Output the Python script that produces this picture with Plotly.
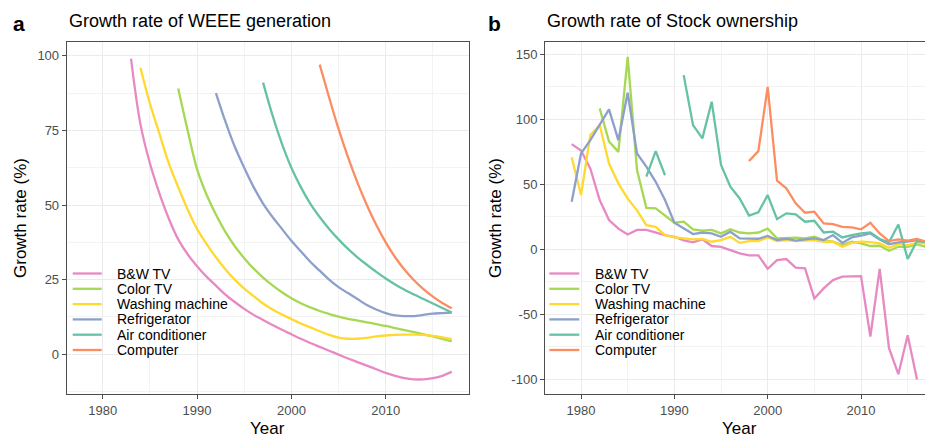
import plotly.graph_objects as go

W, H = 933, 441
OFF = 8  # the page body adds an 8px margin around the figure

names = ["B&W TV", "Color TV", "Washing machine", "Refrigerator", "Air conditioner", "Computer"]
colors = ["#E78AC3", "#A6D854", "#FFD92F", "#8DA0CB", "#66C2A5", "#FC8D62"]

year_ticks = [1980, 1990, 2000, 2010]
ticks_a = [0, 25, 50, 75, 100]
ticks_b = [-100, -50, 0, 50, 100, 150]
labels_b = ["-100", "-50", "0", "50", "100", "150"]

# panel a: smoothed WEEE generation growth rate, 1983-2017
years_a = list(range(1983, 2018))
weee_bw = [99, 77, 64, 54, 45.5, 38.5, 33.5, 29.5, 26, 23, 20, 17.5, 15.2, 13.2, 11.5, 9.8, 8.2,
           6.7, 5.2, 3.8, 2.5, 1.2, -0.1, -1.4, -2.6, -3.8, -5, -6.2, -7.2, -8, -8.4, -8.4, -8, -7.2, -5.8]
weee_color = [None] * 5 + [89, 75, 62, 53.5, 46.8, 41, 36.2, 32.2, 28.7, 25.7, 23.1, 20.8, 18.8, 17.1,
                           15.7, 14.5, 13.5, 12.6, 11.9, 11.3, 10.7, 10.1, 9.5, 8.8, 8.1, 7.4, 6.7, 6,
                           5.2, 4.3]
weee_wash = [None] + [96, 84, 74, 64, 56, 48.5, 42, 37, 32.5, 28.5, 25, 22, 19.5, 17, 15, 13.3, 11.8,
                      10.3, 9, 7.7, 6.5, 5.6, 5.2, 5.2, 5.5, 6, 6.3, 6.5, 6.6, 6.6, 6.5, 6.2, 5.7, 5.1]
weee_fridge = [None] * 9 + [87.5, 78, 69.5, 62.5, 56, 50.5, 46, 42, 38, 34.5, 31, 28, 25, 22.5, 20.5,
                            18.5, 16.5, 15, 13.8, 13, 12.8, 12.8, 13.2, 13.6, 13.8, 14]
weee_ac = [None] * 14 + [91, 80, 70.5, 62.5, 56, 50.5, 46, 42, 38.5, 35.3, 32.5, 30, 27.6, 25.4, 23.4,
                         21.6, 20, 18.5, 17, 15.5, 14]
weee_pc = [None] * 20 + [97, 86, 75.5, 66, 57.5, 50, 43.3, 37.5, 32.5, 28.3, 24.8, 21.8, 19.3, 17.2, 15.4]

# panel b: stock ownership growth rate, 1979-2017
years_b = list(range(1979, 2018))
stock_bw = [81, 76, 62, 38, 22.6, 16, 11.5, 15, 15, 13, 11, 9.7, 7, 5.4, 7.7, 2.6, 2, -0.5, -3, -4.6,
            -4.6, -14.9, -8.2, -7.4, -14, -14.6, -37.7, -30, -23.6, -21, -21, -20.5, -67, -15, -76,
            -96, -66, -100, None]
stock_color = [None] * 3 + [108.5, 83, 75, 148, 61, 32, 31.5, 26, 20.5, 21.3, 15.4, 14.4, 15, 12.3,
                            15.6, 13, 12.3, 13, 16, 8.5, 9, 9, 8.5, 9.7, 7, 6, 3.3, 6, 4.6, 2.6, 2.8,
                            -1, 2, 2, 3.8, 2]
stock_wash = [70.8, 41.8, 88, 95.6, 66, 50.8, 39, 30, 18.7, 17.4, 11, 9.2, 8.5, 7.7, 8, 5.9, 7.2, 9.7,
              5, 6.4, 6.4, 9.2, 6.4, 7.2, 6.4, 6.7, 7.2, 5.9, 5.9, 2, 5, 5.9, 5.6, 4.6, 1.3, 4, 3.3,
              5, 4.6]
stock_fridge = [36.7, 73.8, 84, 95.6, 107.7, 84, 120.5, 73.8, 63.6, 52, 38, 20.5, 16, 11.8, 13, 12.3,
                9.7, 13.6, 8.5, 8.2, 8.2, 10.3, 7.2, 8.2, 6.7, 7.7, 8.5, 7.2, 11, 5, 9.2, 10.5, 12.3,
                7.7, 4, 5.4, 5.9, 7.2, 5.9]
stock_ac = [None] * 8 + [55.9, 75.6, 57, None, 134, 95.6, 85.4, 113.6, 65, 48.2, 39.2, 26, 28.5, 41.8,
                         23.3, 27.7, 27, 21.3, 22, 13, 13.6, 9.2, 11, 12.3, 13, 8, 5.4, 19.2, -7.4,
                         6.4, 5.4]
stock_pc = [None] * 19 + [68, 75.6, 125, 52.8, 47, 35.4, 28.2, 29, 20, 19.5, 17.4, 17, 15.4, 20.5,
                          12.3, 6.4, 7.7, 6.7, 8, 5.9]

weee = [weee_bw, weee_color, weee_wash, weee_fridge, weee_ac, weee_pc]
stock = [stock_bw, stock_color, stock_wash, stock_fridge, stock_ac, stock_pc]


def px_x(p):
    return (p - OFF) / W


def px_y(p):
    return 1 - (p - OFF) / H


fig = go.Figure()
for name, col, ys in zip(names, colors, weee):
    fig.add_trace(go.Scatter(x=years_a, y=ys, mode="lines", name=name, showlegend=False,
                             line=dict(color=col, width=2.3, shape="spline", smoothing=1.0),
                             xaxis="x", yaxis="y"))
for name, col, ys in zip(names, colors, stock):
    fig.add_trace(go.Scatter(x=years_b, y=ys, mode="lines", name=name, showlegend=False,
                             line=dict(color=col, width=2.3), connectgaps=False,
                             xaxis="x2", yaxis="y2"))

grid = "#EBEBEB"
minor_grid = "#F3F3F3"
border = "#4D4D4D"
tickfont = dict(size=13, color="#4D4D4D")
ydom = [px_y(394), px_y(42)]

axis_common = dict(showgrid=True, gridcolor=grid, gridwidth=1, zeroline=False,
                   showline=True, linecolor=border, linewidth=1, mirror=True,
                   ticks="outside", ticklen=4, tickcolor=border, tickfont=tickfont)

fig.update_layout(
    width=W, height=H,
    margin=dict(l=0, r=0, t=0, b=0),
    paper_bgcolor="white", plot_bgcolor="white",
    font=dict(family="Arial, Liberation Sans, sans-serif", color="black"),
    xaxis=dict(axis_common, domain=[px_x(66.7), px_x(469.3)], range=[1976.18, 2018.86],
               tickvals=year_ticks, anchor="y",
               minor=dict(tickvals=[1975, 1985, 1995, 2005, 2015], showgrid=True,
                          gridcolor=minor_grid, gridwidth=1)),
    yaxis=dict(axis_common, domain=ydom, range=[-13.3, 104.6], tickvals=ticks_a,
               anchor="x",
               minor=dict(tickvals=[-12.5, 12.5, 37.5, 62.5, 87.5], showgrid=True,
                          gridcolor=minor_grid, gridwidth=1)),
    # right panel runs past the page edge, as in the cropped original
    xaxis2=dict(axis_common, domain=[px_x(545), 1.0], range=[1976.14, 2018.57],
                tickvals=year_ticks, anchor="y2",
                minor=dict(tickvals=[1975, 1985, 1995, 2005, 2015], showgrid=True,
                           gridcolor=minor_grid, gridwidth=1)),
    yaxis2=dict(axis_common, domain=ydom, range=[-111.2, 159.5],
                tickvals=ticks_b, ticktext=labels_b, anchor="x2",
                minor=dict(tickvals=[-75, -25, 25, 75, 125], showgrid=True,
                           gridcolor=minor_grid, gridwidth=1)),
)

shapes = []
annotations = []

# panel labels and titles
for lab, lx, title, tx in [("a", 19, "Growth rate of WEEE generation", 67),
                           ("b", 494, "Growth rate of Stock ownership", 545)]:
    annotations.append(dict(text="<b>%s</b>" % lab, x=px_x(lx), y=px_y(23), xref="paper", yref="paper",
                            showarrow=False, font=dict(size=21, color="black"),
                            xanchor="center", yanchor="middle"))
    annotations.append(dict(text=title, x=px_x(tx), y=px_y(21), xref="paper", yref="paper",
                            showarrow=False, font=dict(size=18, color="black"),
                            xanchor="left", yanchor="middle"))

# axis titles
for cx, yx in [(267, 20), (739, 495)]:
    annotations.append(dict(text="Year", x=px_x(cx), y=px_y(428), xref="paper", yref="paper",
                            showarrow=False, font=dict(size=17, color="black"),
                            xanchor="center", yanchor="middle"))
    annotations.append(dict(text="Growth rate (%)", x=px_x(yx), y=px_y(218), xref="paper",
                            yref="paper", showarrow=False, textangle=-90,
                            font=dict(size=17, color="black"), xanchor="center", yanchor="middle"))

# legends drawn inside each panel; white box sits over the grid but under the lines
panels = [("x", "y", 66.7, 469.3, 68, 230, 72.7, 101.7, 115),
          ("x2", "y2", 545, 941, 547, 710, 549.3, 579.3, 592.7)]
for xa, ya, d0, d1, bx0, bx1, kx0, kx1, tx in panels:
    def dx(p, d0=d0, d1=d1):
        return (p - d0) / (d1 - d0)

    def dy(p):
        return (394 - p) / (394 - 42)

    shapes.append(dict(type="rect", xref=xa + " domain", yref=ya + " domain", x0=dx(bx0), x1=dx(bx1),
                       y0=dy(361), y1=dy(264), fillcolor="white", line=dict(width=0),
                       layer="below"))
    for i, (name, col) in enumerate(zip(names, colors)):
        yc = 273.5 + i * 15.3
        shapes.append(dict(type="line", xref="paper", yref="paper", x0=px_x(kx0), x1=px_x(kx1),
                           y0=px_y(yc), y1=px_y(yc), line=dict(color=col, width=2.3),
                           layer="above"))
        annotations.append(dict(text=name, x=px_x(tx), y=px_y(yc), xref="paper", yref="paper",
                                showarrow=False, font=dict(size=14, color="black"),
                                xanchor="left", yanchor="middle"))

fig.update_layout(shapes=shapes, annotations=annotations)

fig.write_html("out.html")
